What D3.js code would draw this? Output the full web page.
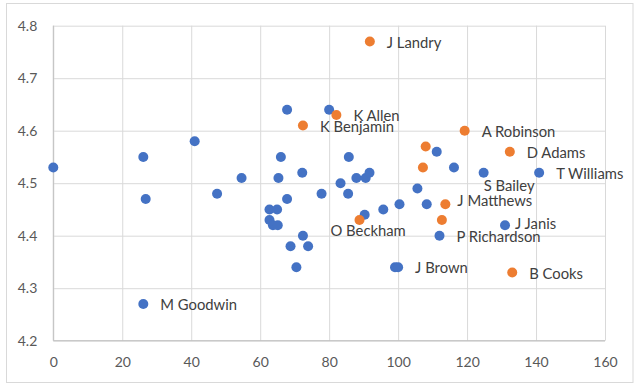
<!DOCTYPE html>
<html>
<head>
<meta charset="utf-8">
<style>
    body { margin: 0; background: #fff; }
    .tick text { font-family: Lato, "Open Sans", sans-serif; font-size: 14px; fill: #595959; }
    .grid line { stroke: #d9d9d9; stroke-width: 1; }
    .grid path { display: none; }
    .lbl { font-family: Lato, "Open Sans", sans-serif; font-size: 14.8px; fill: #404040; }
</style>
</head>
<body>
<div id="chart"></div>
<script src="https://cdn.jsdelivr.net/npm/d3@7"></script>
<script>

//////////////////// data ////////////////////
// blue series
let blueX = [0, 26.1, 26.8, 41, 47.5, 54.6, 26.1,
    67.8, 80, 66, 85.7, 65.3, 72.2, 83.3, 87.9, 90.6, 91.7, 77.8, 85.5, 67.8,
    62.7, 64.9, 62.7, 63.7, 65.1, 72.4, 68.8, 73.9, 70.5, 90.3, 95.7, 100.4,
    105.6, 108.3, 111.2, 116.2, 124.8, 140.9, 131, 112, 99.1, 100];
let blueY = [4.53, 4.55, 4.47, 4.58, 4.48, 4.51, 4.27,
    4.64, 4.64, 4.55, 4.55, 4.51, 4.52, 4.50, 4.51, 4.51, 4.52, 4.48, 4.48, 4.47,
    4.45, 4.45, 4.43, 4.42, 4.42, 4.40, 4.38, 4.38, 4.34, 4.44, 4.45, 4.46,
    4.49, 4.46, 4.56, 4.53, 4.52, 4.52, 4.42, 4.40, 4.34, 4.34];
let blueName = ['', '', '', '', '', '', 'M Goodwin',
    '', '', '', '', '', '', '', '', '', '', '', '', '',
    '', '', '', '', '', '', '', '', '', '', '', '',
    '', '', '', '', 'S Bailey', 'T Williams', 'J Janis', 'P Richardson', '', 'J Brown'];

// orange series
let orangeX = [91.8, 82.1, 72.4, 119.3, 132.4, 108, 107.2, 113.7, 112.7, 88.8, 133.1];
let orangeY = [4.77, 4.63, 4.61, 4.60, 4.56, 4.57, 4.53, 4.46, 4.43, 4.43, 4.33];
let orangeName = ['J Landry', 'K Allen', 'K Benjamin', 'A Robinson', 'D Adams', '', '',
    'J Matthews', '', 'O Beckham', 'B Cooks'];

let xTicks = [0, 20, 40, 60, 80, 100, 120, 140, 160];
let yTicks = [4.2, 4.3, 4.4, 4.5, 4.6, 4.7, 4.8];

//////////////////// layout ////////////////////
let W = 644, H = 387;
let plotL = 53.3, plotR = 605, plotT = 25.7, plotB = 340.7;
let R = 5;

// label placement (dx from dot to text start, dy to text middle)
let LBL_DEFAULT = [17, 1];
let lblShift = {
    'S Bailey': [0, 13],
    'J Matthews': [12, -3],
    'J Janis': [10, -1.5],
    'O Beckham': [-29, 11]
};

let svg = d3.select('#chart').append('svg')
    .attr('width', W)
    .attr('height', H);

svg.append('rect')
    .attr('x', 6.5).attr('y', 3.5)
    .attr('width', 626.5).attr('height', 379)
    .attr('fill', '#fff')
    .attr('stroke', '#d9d9d9')
    .attr('stroke-width', 1);

let x = d3.scaleLinear().domain([0, 160]).range([plotL, plotR]);
let y = d3.scaleLinear().domain([4.2, 4.8]).range([plotB, plotT]);

// grid + axes
svg.append('g')
    .classed('grid', true)
    .attr('transform', `translate(0, ${plotB})`)
    .call(d3.axisBottom(x).tickValues(xTicks).tickSizeInner(-(plotB - plotT)).tickSizeOuter(0).tickPadding(16));

svg.append('g')
    .classed('grid', true)
    .attr('transform', `translate(${plotL}, 0)`)
    .call(d3.axisLeft(y).tickValues(yTicks).tickFormat(d3.format('.1f')).tickSizeInner(-(plotR - plotL)).tickSizeOuter(0).tickPadding(16));

// axis lines
svg.append('line')
    .attr('x1', plotL).attr('x2', plotR)
    .attr('y1', plotB).attr('y2', plotB)
    .attr('stroke', '#bfbfbf');
svg.append('line')
    .attr('x1', plotL).attr('x2', plotL)
    .attr('y1', plotT).attr('y2', plotB)
    .attr('stroke', '#bfbfbf');

// points
function drawSeries(xs, ys, names, color) {
    let pts = xs.map((v, i) => ({x: v, y: ys[i], name: names[i]}));
    let g = svg.append('g');
    g.selectAll('circle')
        .data(pts)
        .join('circle')
        .attr('cx', d => x(d.x))
        .attr('cy', d => y(d.y))
        .attr('r', R)
        .attr('fill', color);
    return pts;
}

let bluePts = drawSeries(blueX, blueY, blueName, '#4472c4');
let orangePts = drawSeries(orangeX, orangeY, orangeName, '#ed7d31');

// labels
let labelled = bluePts.concat(orangePts).filter(d => d.name != '');
svg.append('g')
    .selectAll('text')
    .data(labelled)
    .join('text')
    .classed('lbl', true)
    .attr('x', d => x(d.x) + (lblShift[d.name] || LBL_DEFAULT)[0])
    .attr('y', d => y(d.y) + (lblShift[d.name] || LBL_DEFAULT)[1])
    .attr('dy', '0.35em')
    .text(d => d.name);

</script>
</body>
</html>
